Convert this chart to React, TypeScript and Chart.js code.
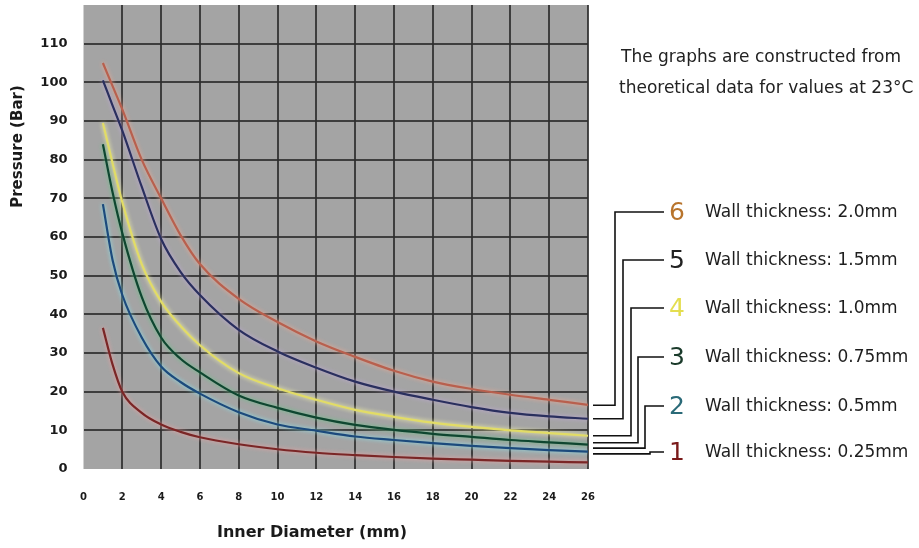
import React, { useEffect, useRef } from "react";
import { Chart, registerables } from "chart.js";

Chart.register(...registerables);

// Inner diameter (mm) sample positions
const innerDiameter = [1, 1.5, 2, 3, 4, 5, 6, 8, 10, 12, 14, 16, 18, 20, 22, 24, 26];

// Pressure (Bar) per wall thickness
const wall025 = [36.5, 27, 20, 14.5, 11.5, 9.6, 8.2, 6.4, 5.1, 4.2, 3.6, 3.1, 2.7, 2.4, 2.1, 1.9, 1.7];
const wall050 = [68.5, 54, 45, 34, 26.5, 22.5, 19.5, 14.7, 11.5, 9.9, 8.4, 7.5, 6.7, 6.0, 5.4, 4.9, 4.5];
const wall075 = [84, 71.5, 61, 44.5, 34, 28.5, 25, 19, 15.8, 13.3, 11.4, 10.1, 9.1, 8.3, 7.5, 6.9, 6.3];
const wall100 = [89.5, 79, 69, 53, 43.3, 37, 32, 24.8, 20.9, 17.9, 15.3, 13.5, 12, 10.9, 10, 9.3, 8.6];
const wall150 = [100.5, 94, 87.5, 73, 59.5, 51, 45, 36, 30.4, 26.2, 22.6, 20, 17.9, 16, 14.5, 13.6, 13];
const wall200 = [105, 99, 93, 80, 70, 60.5, 53, 44, 38, 33, 29, 25.4, 22.6, 20.7, 19.2, 17.9, 16.6];

const seriesNumbers = ["1", "2", "3", "4", "5", "6"];
const seriesLabels = [
  "Wall thickness: 0.25mm",
  "Wall thickness: 0.5mm",
  "Wall thickness: 0.75mm",
  "Wall thickness: 1.0mm",
  "Wall thickness: 1.5mm",
  "Wall thickness: 2.0mm",
];
// pressure value where each leader line leaves the plot edge
const leaderValues = [3.9, 5.4, 6.8, 8.6, 13, 16.5];

const noteLines = [
  "The graphs are constructed from",
  "theoretical data for values at 23°C",
];

const xTitle = "Inner Diameter (mm)";
const yTitle = "Pressure (Bar)";

const allSeries = [wall025, wall050, wall075, wall100, wall150, wall200];
const lineColors = ["#7a2626", "#1c4a7c", "#0f4630", "#e2dc66", "#2a2f5e", "#b8604e"];
const glowColors = ["#f2a0a0", "#86e6f2", "#66c488", "#fafaa8", "#c0a8dc", "#f4a890"];
const numberColors = ["#7a1a1a", "#2a6a78", "#1a3a2a", "#e4de50", "#222222", "#b8742c"];

const glowPlugin = {
  id: "glow",
  beforeDatasetDraw(chart: any, args: any) {
    const ds = chart.data.datasets[args.index] as any;
    const ctx = chart.ctx;
    ctx.save();
    ctx.shadowColor = ds.glow;
    ctx.shadowBlur = 4;
  },
  afterDatasetDraw(chart: any) {
    chart.ctx.restore();
  },
};

const bgPlugin = {
  id: "plotBg",
  beforeDraw(chart: any) {
    const { ctx, chartArea } = chart;
    ctx.save();
    ctx.fillStyle = "#ffffff";
    ctx.fillRect(0, 0, chart.width, chart.height);
    ctx.fillStyle = "#a4a4a4";
    ctx.fillRect(chartArea.left, chartArea.top, chartArea.right - chartArea.left, chartArea.bottom - chartArea.top);
    ctx.restore();
  },
};

const annotPlugin = {
  id: "annot",
  afterDraw(chart: any) {
    const { ctx, chartArea, scales } = chart;
    const ys = scales.y;
    ctx.save();
    // axis titles
    ctx.fillStyle = "#1a1a1a";
    ctx.textAlign = "center";
    ctx.textBaseline = "middle";
    ctx.font = "bold 16px 'DejaVu Sans'";
    ctx.fillText(xTitle, 312, 533);
    ctx.save();
    ctx.translate(18, chartArea.top + 0.305 * (chartArea.bottom - chartArea.top));
    ctx.rotate(-Math.PI / 2);
    ctx.font = "bold 15px 'DejaVu Sans'";
    ctx.fillText(yTitle, 0, 0);
    ctx.restore();

    // note
    ctx.textAlign = "left";
    ctx.font = "17px 'DejaVu Sans'";
    ctx.fillStyle = "#222222";
    ctx.fillText(noteLines[0], 621, 58);
    ctx.fillText(noteLines[1], 619, 89);

    // leaders
    const vx = [650, 645, 638, 631, 623, 615];
    const labelY = [452, 406, 357, 308, 260, 212];
    ctx.strokeStyle = "#111111";
    ctx.lineWidth = 1.6;
    for (let i = 0; i < seriesNumbers.length; i++) {
      const y0 = ys.getPixelForValue(leaderValues[i]);
      ctx.beginPath();
      ctx.moveTo(chartArea.right + 5, y0);
      ctx.lineTo(vx[i], y0);
      ctx.lineTo(vx[i], labelY[i]);
      ctx.lineTo(664, labelY[i]);
      ctx.stroke();

      ctx.textAlign = "center";
      ctx.font = "25px 'DejaVu Sans'";
      ctx.fillStyle = numberColors[i];
      ctx.fillText(seriesNumbers[i], 677, labelY[i] + 1);

      ctx.textAlign = "left";
      ctx.font = "17px 'DejaVu Sans'";
      ctx.fillStyle = "#1e1e1e";
      ctx.fillText(seriesLabels[i], 705, labelY[i] + 1);
    }
    ctx.restore();
  },
};

export default function App() {
  const ref = useRef<HTMLCanvasElement>(null);
  useEffect(() => {
    document.body.style.margin = "0";
    if (!ref.current) return;
    const datasets = allSeries.map((vals, i) => ({
      label: seriesLabels[i],
      data: innerDiameter.map((x, j) => ({ x, y: vals[j] })),
      borderColor: lineColors[i],
      glow: glowColors[i],
      borderWidth: 2.2,
      pointRadius: 0,
      showLine: true,
      fill: false,
      cubicInterpolationMode: "monotone" as const,
    }));
    const chart = new Chart(ref.current, {
      type: "scatter",
      data: { datasets: datasets as any },
      options: {
        responsive: false,
        animation: false,
        devicePixelRatio: 1,
        layout: { padding: { left: 0, top: 5, right: 331, bottom: 0 } },
        plugins: { legend: { display: false }, tooltip: { enabled: false } },
        scales: {
          x: {
            type: "linear",
            min: 0,
            max: 26,
            border: { display: false },
            grid: {
              drawTicks: false,
              lineWidth: 2,
              color: (c: any) => (c.tick && c.tick.value === 0 ? "rgba(0,0,0,0)" : "rgba(45,45,45,0.85)"),
            },
            ticks: {
              stepSize: 2,
              padding: 22,
              color: "#1a1a1a",
              font: { family: "'DejaVu Sans'", size: 10, weight: "bold" },
            },
            afterFit: (s: any) => {
              s.height = 79;
              s.paddingLeft = 0;
              s.paddingRight = 0;
            },
          },
          y: {
            type: "linear",
            min: 0,
            max: 120,
            border: { display: false },
            grid: {
              drawTicks: false,
              lineWidth: 2,
              color: (c: any) => (c.tick && c.tick.value === 0 ? "rgba(0,0,0,0)" : "rgba(45,45,45,0.85)"),
            },
            ticks: {
              stepSize: 10,
              padding: 16,
              color: "#1a1a1a",
              font: { family: "'DejaVu Sans'", size: 13, weight: "bold" },
            },
            afterBuildTicks: (s: any) => {
              s.ticks = s.ticks.filter((t: any) => t.value <= 110);
            },
            afterFit: (s: any) => {
              s.width = 83.5;
              s.paddingTop = 0;
              s.paddingBottom = 0;
            },
          },
        },
      },
      plugins: [bgPlugin, glowPlugin, annotPlugin],
    });
    return () => chart.destroy();
  }, []);
  return (
    <div style={{ position: "fixed", left: 0, top: 0, width: 919, height: 548, background: "#fff" }}>
      <canvas ref={ref} width={919} height={548} style={{ width: 919, height: 548, display: "block" }} />
    </div>
  );
}
